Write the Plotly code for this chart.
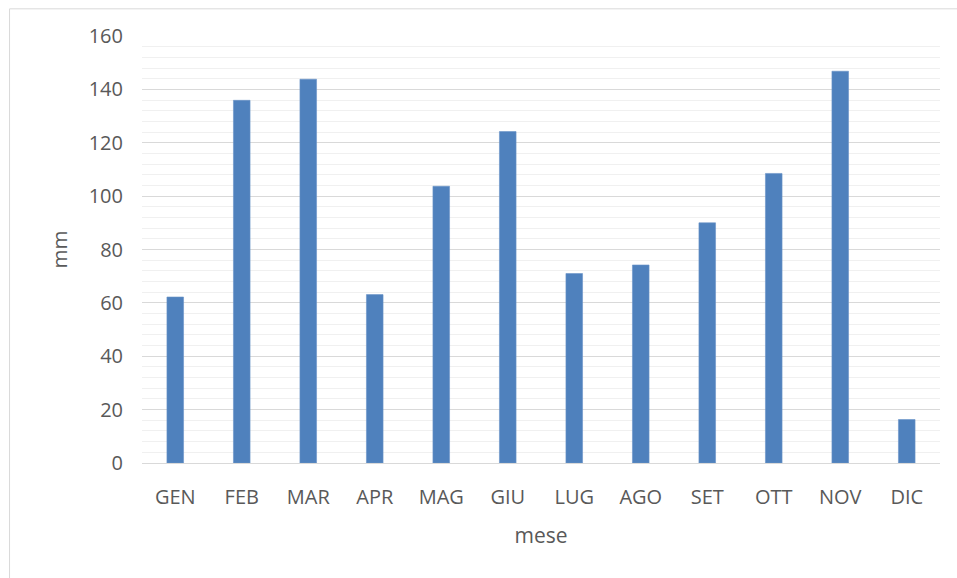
import plotly.graph_objects as go

# Monthly precipitation (mm)
months = ["GEN", "FEB", "MAR", "APR", "MAG", "GIU", "LUG", "AGO", "SET", "OTT", "NOV", "DIC"]
rain_mm = [62.2, 135.9, 143.8, 63.1, 103.7, 124.2, 71.0, 74.2, 90.0, 108.5, 146.8, 16.3]

FONT = "Open Sans"
TEXT_COLOR = "#595959"

fig = go.Figure(
    go.Bar(
        x=months,
        y=rain_mm,
        marker=dict(color="#4f81bd", line=dict(color="#6a94c8", width=0.6)),
        width=0.25,
        hoverinfo="x+y",
    )
)

fig.update_layout(
    width=957,
    height=578,
    margin=dict(l=142, r=17, t=36, b=115),
    paper_bgcolor="white",
    plot_bgcolor="white",
    showlegend=False,
    font=dict(family=FONT, size=20, color=TEXT_COLOR),
    shapes=[
        # chart-area frame
        dict(
            type="rect",
            xref="paper",
            yref="paper",
            x0=-0.1660,
            x1=1.05,
            y0=-0.35,
            y1=1.0636,
            line=dict(color="#d9d9d9", width=1),
            fillcolor="rgba(0,0,0,0)",
            layer="below",
        )
    ],
)

fig.update_yaxes(
    range=[0, 160],
    dtick=20,
    tick0=0,
    showgrid=True,
    gridcolor="#d9d9d9",
    gridwidth=1.4,
    minor=dict(dtick=4, tick0=0, showgrid=True, gridcolor="#f0f0f0", gridwidth=1.4),
    zeroline=False,
    showline=False,
    ticks="",
    ticklabelstandoff=18,
    tickfont=dict(family=FONT, size=20, color=TEXT_COLOR),
    title=dict(text="mm", standoff=15, font=dict(family=FONT, size=20.5, color=TEXT_COLOR)),
)

fig.update_xaxes(
    showgrid=False,
    showline=True,
    linecolor="#d9d9d9",
    linewidth=1.4,
    ticks="",
    ticklabelstandoff=16,
    tickfont=dict(family=FONT, size=20, color=TEXT_COLOR),
    title=dict(text="mese", standoff=19, font=dict(family=FONT, size=21, color=TEXT_COLOR)),
)

fig.write_html("out.html")
